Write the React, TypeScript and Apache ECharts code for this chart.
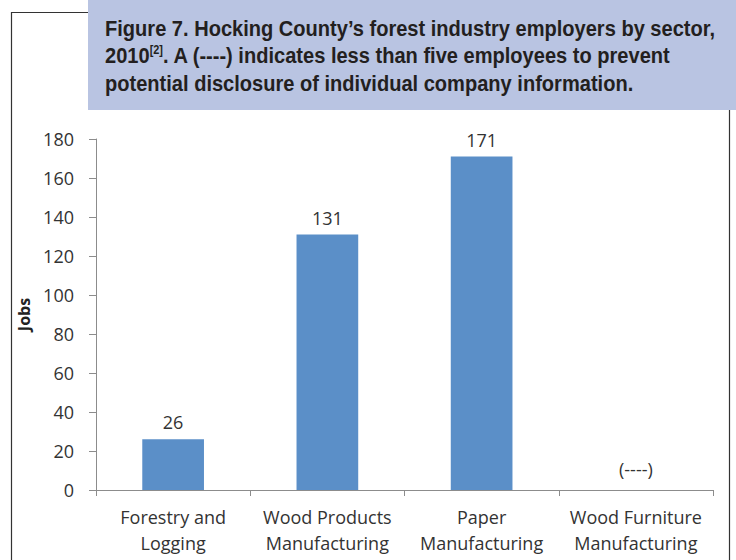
import React, { useEffect, useRef } from "react";
import * as echarts from "echarts";

const categories = [
  "Forestry and\nLogging",
  "Wood Products\nManufacturing",
  "Paper\nManufacturing",
  "Wood Furniture\nManufacturing",
];
const jobs = [26, 131, 171, 0];
const valueLabels = ["26", "131", "171", "(----)"];
const titleLines = [
  "Figure 7. Hocking County’s forest industry employers by sector,",
  "2010{sup|[2]}. A (----) indicates less than five employees to prevent",
  "potential disclosure of individual company information.",
];

export default function App() {
  const ref = useRef<HTMLDivElement>(null);
  useEffect(() => {
    if (!ref.current) return;
    const chart = echarts.init(ref.current, undefined, { renderer: "svg" });
    const labelFont = "'Open Sans', 'Noto Sans', sans-serif";
    const titleFont = "'Liberation Sans', Arial, sans-serif";
    const titleFontStr = `bold 22px ${titleFont}`;
    let sx = 0.95;
    try {
      const c = document.createElement("canvas").getContext("2d");
      if (c) {
        c.font = titleFontStr;
        const w = c.measureText(titleLines[0]).width;
        if (w > 0) sx = 610 / w;
      }
    } catch (e) {}
    chart.setOption({
      animation: false,
      backgroundColor: "#ffffff",
      grid: { left: 96, right: 23, top: 139, bottom: 70 },
      xAxis: {
        type: "category",
        data: categories,
        axisLine: { show: true, lineStyle: { color: "#8c8c8c", width: 1 } },
        axisTick: { show: true, length: 6, lineStyle: { color: "#8c8c8c" } },
        axisLabel: {
          color: "#333333",
          fontSize: 18,
          fontFamily: labelFont,
          lineHeight: 26,
          margin: 14,
          interval: 0,
        },
      },
      yAxis: {
        type: "value",
        min: 0,
        max: 180,
        interval: 20,
        name: "Jobs",
        nameLocation: "middle",
        nameGap: 64,
        nameTextStyle: {
          color: "#222222",
          fontSize: 16,
          fontWeight: "bold",
          fontFamily: labelFont,
        },
        axisLine: { show: true, lineStyle: { color: "#8c8c8c", width: 1 } },
        axisTick: { show: true, length: 7, lineStyle: { color: "#8c8c8c" } },
        splitLine: { show: false },
        axisLabel: {
          color: "#333333",
          fontSize: 18,
          fontFamily: labelFont,
          margin: 22,
        },
      },
      series: [
        {
          type: "bar",
          data: jobs.map((v, i) => ({
            value: v,
            label: {
              show: true,
              position: "top",
              distance: i === 3 ? 12 : 8,
              formatter: valueLabels[i],
              color: "#333333",
              fontSize: 18,
              fontFamily: labelFont,
            },
          })),
          barWidth: "40%",
          itemStyle: { color: "#5b8fc8" },
        },
      ],
      graphic: [
        {
          type: "polyline",
          shape: { points: [[11.5, 560], [11.5, 12.5], [90, 12.5]] },
          style: { stroke: "#333333", lineWidth: 1.2, fill: null },
        },
        {
          type: "line",
          shape: { x1: 729.5, y1: 109, x2: 729.5, y2: 560 },
          style: { stroke: "#333333", lineWidth: 1.2 },
        },
        {
          type: "rect",
          shape: { x: 88, y: 0, width: 648, height: 110 },
          style: { fill: "#b9c4e2" },
        },
        ...titleLines.map((t, i) => ({
          type: "text",
          x: 105,
          y: 28 + i * 27.5,
          scaleX: sx,
          style: {
            text: t,
            fill: "#231f20",
            font: titleFontStr,
            verticalAlign: "middle",
            rich: {
              sup: {
                font: `bold 12px ${titleFont}`,
                fill: "#231f20",
                padding: [0, 0, 12, 0],
              },
            },
          },
        })),
      ],
    });
    return () => chart.dispose();
  }, []);
  return (
    <div
      ref={ref}
      style={{ position: "absolute", left: 0, top: 0, width: 736, height: 560 }}
    />
  );
}
